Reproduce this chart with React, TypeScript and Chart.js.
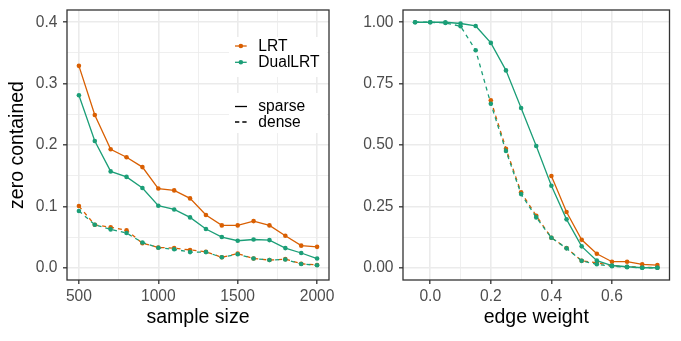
import React, { useEffect, useRef } from 'react';
import { Chart, registerables } from 'chart.js';

Chart.register(...registerables);

const ORANGE = '#D95F02';
const GREEN = '#1B9E77';

// ---- left panel: sample size ----
const sampleSizes = [500, 600, 700, 800, 900, 1000, 1100, 1200, 1300, 1400, 1500, 1600, 1700, 1800, 1900, 2000];
const lrtSparseN = [0.329, 0.249, 0.193, 0.180, 0.164, 0.129, 0.126, 0.113, 0.086, 0.069, 0.069, 0.076, 0.069, 0.052, 0.036, 0.034];
const dualSparseN = [0.281, 0.2065, 0.157, 0.148, 0.130, 0.101, 0.095, 0.082, 0.063, 0.050, 0.044, 0.046, 0.045, 0.032, 0.024, 0.015];
const lrtDenseN = [0.1005, 0.070, 0.066, 0.061, 0.040, 0.033, 0.032, 0.029, 0.026, 0.017, 0.023, 0.015, 0.0125, 0.014, 0.0065, 0.0045];
const dualDenseN = [0.0925, 0.070, 0.0625, 0.0565, 0.041, 0.0325, 0.030, 0.0255, 0.0255, 0.017, 0.022, 0.015, 0.0125, 0.0135, 0.006, 0.004];

// ---- right panel: edge weight ----
const edgeWeights = [-0.05, 0, 0.05, 0.1, 0.15, 0.2, 0.25, 0.3, 0.35, 0.4, 0.45, 0.5, 0.55, 0.6, 0.65, 0.7, 0.75];
const lrtSparseW = [null, null, null, null, null, null, null, null, null, 0.374, 0.227, 0.114, 0.057, 0.0245, 0.0245, 0.014, 0.011];
const dualSparseW = [1.0, 1.0, 1.0, 0.995, 0.985, 0.916, 0.804, 0.651, 0.496, 0.334, 0.197, 0.087, 0.029, 0.009, 0.004, 0.0, 0.0];
const lrtDenseW = [null, null, null, null, null, 0.682, 0.485, 0.307, 0.212, 0.122, 0.080, 0.0285, 0.020, 0.008, 0.004, 0.002, 0.001];
const dualDenseW = [1.0, 1.0, 0.997, 0.984, 0.886, 0.668, 0.4755, 0.300, 0.205, 0.122, 0.079, 0.028, 0.014, 0.006, 0.002, 0.0, 0.0];

// ---- axis ticks ----
const leftXMajor = [500, 1000, 1500, 2000];
const leftXMinor = [750, 1250, 1750];
const leftYMajor = [0, 0.1, 0.2, 0.3, 0.4];
const leftYMinor = [0.05, 0.15, 0.25, 0.35];
const rightXMajor = [0, 0.2, 0.4, 0.6];
const rightXMinor = [0.1, 0.3, 0.5, 0.7];
const rightYMajor = [0, 0.25, 0.5, 0.75, 1.0];
const rightYMinor = [0.125, 0.375, 0.625, 0.875];

const methodLegend = ['LRT', 'DualLRT'];
const methodColors = [ORANGE, GREEN];
const typeLegend = ['sparse', 'dense'];

const FONT = "'Liberation Sans', Arial, Helvetica, sans-serif";
const TICK_SIZE = 15.6;
const TITLE_SIZE = 19.5;

Chart.defaults.font.family = FONT;

function makeScale(o: {
  min: number; max: number; major: number[]; minor: number[];
  fmt: (v: number) => string; title?: string; horizontal: boolean; size: number;
}) {
  const isMajor = (v: number) => o.major.some((m) => Math.abs(m - v) < 1e-9);
  return {
    type: 'linear',
    bounds: 'data',
    min: o.min,
    max: o.max,
    afterBuildTicks: (s: any) => {
      s.ticks = [...o.major, ...o.minor].sort((a, b) => a - b).map((v) => ({ value: v }));
    },
    afterFit: (s: any) => {
      if (o.horizontal) s.height = o.size; else s.width = o.size;
      s.paddingTop = 0;
      s.paddingBottom = 0;
      s.paddingLeft = 0;
      s.paddingRight = 0;
    },
    grid: {
      color: '#EBEBEB',
      lineWidth: (ctx: any) => (ctx.tick && isMajor(ctx.tick.value) ? 1.6 : 0.8),
      drawTicks: true,
      tickLength: 4,
      tickWidth: 1.3,
      tickColor: (ctx: any) => (ctx.tick && isMajor(ctx.tick.value) ? '#333333' : 'rgba(0,0,0,0)'),
    },
    border: { display: false },
    ticks: {
      autoSkip: false,
      maxRotation: 0,
      minRotation: 0,
      padding: o.horizontal ? 3.6 : 5.5,
      color: '#4D4D4D',
      font: { size: TICK_SIZE, family: FONT },
      callback: (v: any) => (isMajor(Number(v)) ? o.fmt(Number(v)) : ''),
    },
    title: o.title
      ? {
          display: true,
          text: o.title,
          color: '#000000',
          font: { size: TITLE_SIZE, family: FONT },
          padding: o.horizontal ? { top: 0, bottom: 11.6 } : { top: 6.3, bottom: 0 },
        }
      : { display: false },
  };
}

function ds(label: string, xs: number[], ys: (number | null)[], color: string, dashed: boolean, order: number) {
  return {
    label,
    data: xs.map((x, i) => ({ x, y: ys[i] })),
    borderColor: color,
    backgroundColor: color,
    borderWidth: 1.3,
    borderDash: dashed ? [4, 4] : [],
    pointRadius: 2.3,
    pointBorderWidth: 0,
    pointBackgroundColor: color,
    tension: 0,
    spanGaps: false,
    order,
  };
}

const borderPlugin = {
  id: 'panelBorder',
  afterDraw(chart: any) {
    const { ctx, chartArea } = chart;
    ctx.save();
    ctx.strokeStyle = '#333333';
    ctx.lineWidth = 1.3;
    ctx.strokeRect(chartArea.left, chartArea.top, chartArea.right - chartArea.left, chartArea.bottom - chartArea.top);
    ctx.restore();
  },
};

const legendPlugin = {
  id: 'ggLegend',
  afterDatasetsDraw(chart: any) {
    const { ctx, chartArea } = chart;
    const r = chartArea.right;
    const t = chartArea.top;
    ctx.save();
    ctx.fillStyle = '#ffffff';
    ctx.fillRect(r - 100, t + 27, 98, 40);
    ctx.fillRect(r - 100, t + 83, 98, 40);
    const kx0 = r - 94;
    const kx1 = r - 82.3;
    const tx = r - 70.7;
    ctx.font = `${TICK_SIZE}px ${FONT}`;
    ctx.textBaseline = 'middle';
    ctx.textAlign = 'left';
    const rows1 = [t + 36, t + 52.3];
    methodLegend.forEach((name, i) => {
      const y = rows1[i];
      ctx.strokeStyle = methodColors[i];
      ctx.lineWidth = 1.3;
      ctx.setLineDash([]);
      ctx.beginPath();
      ctx.moveTo(kx0, y);
      ctx.lineTo(kx1, y);
      ctx.stroke();
      ctx.fillStyle = methodColors[i];
      ctx.beginPath();
      ctx.arc((kx0 + kx1) / 2, y, 2.3, 0, Math.PI * 2);
      ctx.fill();
      ctx.fillStyle = '#000000';
      ctx.fillText(name, tx, y + 0.5);
    });
    const rows2 = [t + 96.5, t + 112];
    typeLegend.forEach((name, i) => {
      const y = rows2[i];
      ctx.strokeStyle = '#000000';
      ctx.lineWidth = 1.3;
      ctx.setLineDash(i === 0 ? [] : [4.3, 3]);
      ctx.beginPath();
      ctx.moveTo(kx0, y);
      ctx.lineTo(kx1 + 0.3, y);
      ctx.stroke();
      ctx.setLineDash([]);
      ctx.fillStyle = '#000000';
      ctx.fillText(name, tx, y + 0.5);
    });
    ctx.restore();
  },
};

function LeftChart() {
  const ref = useRef<HTMLCanvasElement | null>(null);
  useEffect(() => {
    if (!ref.current) return;
    const chart = new Chart(ref.current, {
      type: 'line',
      data: {
        datasets: [
          ds('DualLRT sparse', sampleSizes, dualSparseN, GREEN, false, 0),
          ds('DualLRT dense', sampleSizes, dualDenseN, GREEN, true, 1),
          ds('LRT sparse', sampleSizes, lrtSparseN, ORANGE, false, 2),
          ds('LRT dense', sampleSizes, lrtDenseN, ORANGE, true, 3),
        ] as any,
      },
      options: {
        animation: false,
        responsive: false,
        devicePixelRatio: 1,
        layout: { padding: { top: 10, right: 11, left: 0, bottom: 0 } },
        plugins: { legend: { display: false }, tooltip: { enabled: false } },
        scales: {
          x: makeScale({ min: 425, max: 2075, major: leftXMajor, minor: leftXMinor, fmt: (v) => String(v), title: 'sample size', horizontal: true, size: 61 }) as any,
          y: makeScale({ min: -0.02, max: 0.42, major: leftYMajor, minor: leftYMinor, fmt: (v) => v.toFixed(1), title: 'zero contained', horizontal: false, size: 67 }) as any,
        },
      },
      plugins: [legendPlugin, borderPlugin],
    });
    return () => chart.destroy();
  }, []);
  return <canvas ref={ref} width={340} height={341} style={{ position: 'absolute', left: 0, top: 0 }} />;
}

function RightChart() {
  const ref = useRef<HTMLCanvasElement | null>(null);
  useEffect(() => {
    if (!ref.current) return;
    const chart = new Chart(ref.current, {
      type: 'line',
      data: {
        datasets: [
          ds('DualLRT sparse', edgeWeights, dualSparseW, GREEN, false, 0),
          ds('DualLRT dense', edgeWeights, dualDenseW, GREEN, true, 1),
          ds('LRT sparse', edgeWeights, lrtSparseW, ORANGE, false, 2),
          ds('LRT dense', edgeWeights, lrtDenseW, ORANGE, true, 3),
        ] as any,
      },
      options: {
        animation: false,
        responsive: false,
        devicePixelRatio: 1,
        layout: { padding: { top: 10, right: 11.5, left: 0, bottom: 0 } },
        plugins: { legend: { display: false }, tooltip: { enabled: false } },
        scales: {
          x: makeScale({ min: -0.09, max: 0.79, major: rightXMajor, minor: rightXMinor, fmt: (v) => v.toFixed(1), title: 'edge weight', horizontal: true, size: 61 }) as any,
          y: makeScale({ min: -0.05, max: 1.05, major: rightYMajor, minor: rightYMinor, fmt: (v) => v.toFixed(2), horizontal: false, size: 63 }) as any,
        },
      },
      plugins: [borderPlugin],
    });
    return () => chart.destroy();
  }, []);
  return <canvas ref={ref} width={341} height={341} style={{ position: 'absolute', left: 340, top: 0 }} />;
}

export default function App() {
  return (
    <div style={{ position: 'absolute', left: 0, top: 0, width: 681, height: 341, background: '#ffffff', overflow: 'hidden' }}>
      <LeftChart />
      <RightChart />
    </div>
  );
}
